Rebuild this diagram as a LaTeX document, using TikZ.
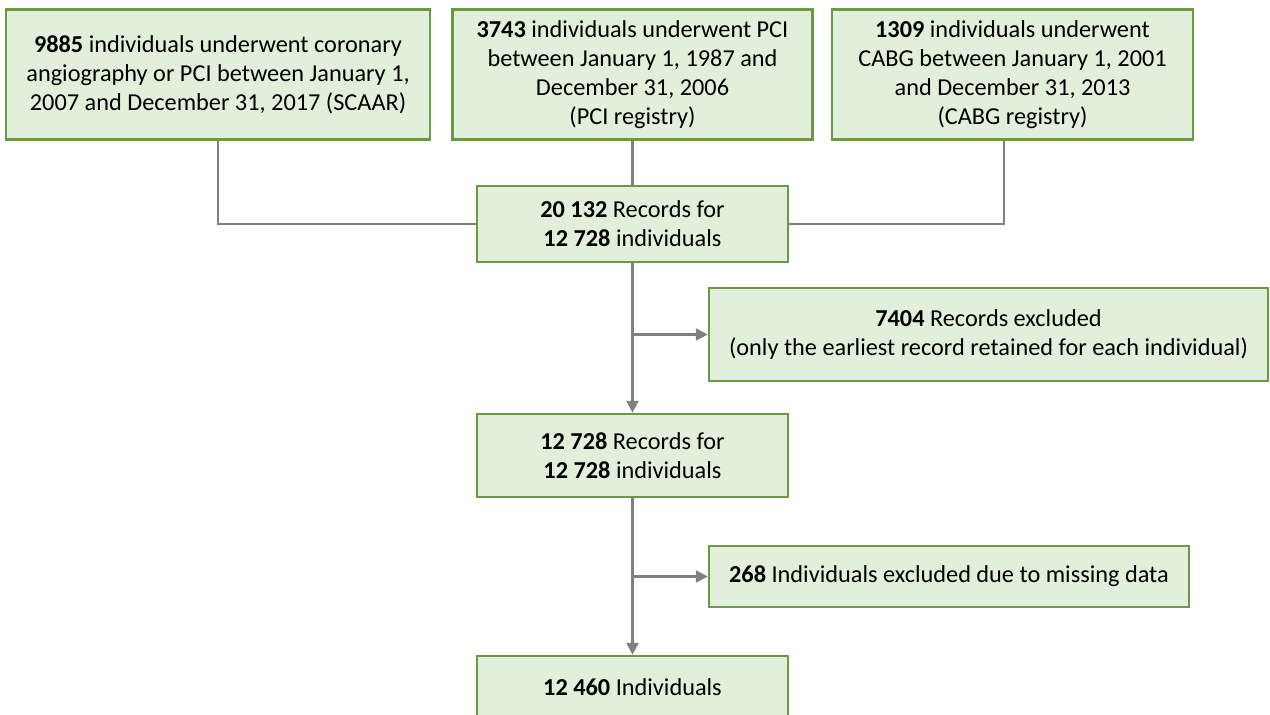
\documentclass[tikz,border=0pt]{standalone}
\usepackage{fontspec}
\setmainfont{Carlito}
\usetikzlibrary{arrows.meta}
\definecolor{boxfill}{HTML}{E2EFDA}
\definecolor{boxline}{HTML}{6C9A44}
\definecolor{conngray}{HTML}{808080}
\begin{document}
\begin{tikzpicture}[x=1pt,y=-1pt,
  box/.style={draw=boxline, fill=boxfill, line width=2.5pt, align=center, inner sep=0pt,
    font=\fontsize{24.3}{29}\selectfont, text=black},
  conn/.style={draw=conngray, line width=2.5pt},
  arr/.style={conn, -{Triangle[length=12pt,width=12pt]}}]
\useasboundingbox (0,0) rectangle (1270,715);
\clip (0,0) rectangle (1270,715);
\node[box, minimum width=424pt, minimum height=130pt] (b1) at (218,74.5)
  {\textbf{9885} individuals underwent coronary\\angiography or PCI between January 1,\\2007 and December 31, 2017 (SCAAR)};
\node[box, minimum width=360pt, minimum height=130pt] (b2) at (632.5,74.5)
  {\textbf{3743} individuals underwent PCI\\between January 1, 1987 and\\December 31, 2006\\(PCI registry)};
\node[box, minimum width=361pt, minimum height=130pt] (b3) at (1012.5,74.5)
  {\textbf{1309} individuals underwent\\CABG between January 1, 2001\\and December 31, 2013\\(CABG registry)};
\node[box, minimum width=311pt, minimum height=76pt] (b4) at (632.5,224)
  {\textbf{20 132} Records for\\\textbf{12 728} individuals};
\node[box, minimum width=559pt, minimum height=93pt] (ex1) at (988.5,334.5)
  {\textbf{7404} Records excluded\\(only the earliest record retained for each individual)};
\node[box, minimum width=311pt, minimum height=83pt] (b5) at (632.5,455.5)
  {\textbf{12 728} Records for\\\textbf{12 728} individuals};
\node[box, minimum width=480pt, minimum height=61pt] (ex2) at (949,576.5)
  {\textbf{268} Individuals excluded due to missing data};
\node[box, minimum width=311pt, minimum height=62pt] (b6) at (632.5,687)
  {\textbf{12 460} Individuals};
\draw[conn] (b1.south) |- (b4.west);
\draw[conn] ([xshift=-8.5pt]b3.south) |- (b4.east);
\draw[conn] (b2.south) -- (b4.north);
\draw[arr] (b4.south) -- (b5.north);
\coordinate (j1) at (b4.south |- ex1.west);
\draw[arr] (j1) -- (ex1.west);
\draw[arr] (b5.south) -- (b6.north);
\coordinate (j2) at (b5.south |- ex2.west);
\draw[arr] (j2) -- (ex2.west);
\end{tikzpicture}
\end{document}
